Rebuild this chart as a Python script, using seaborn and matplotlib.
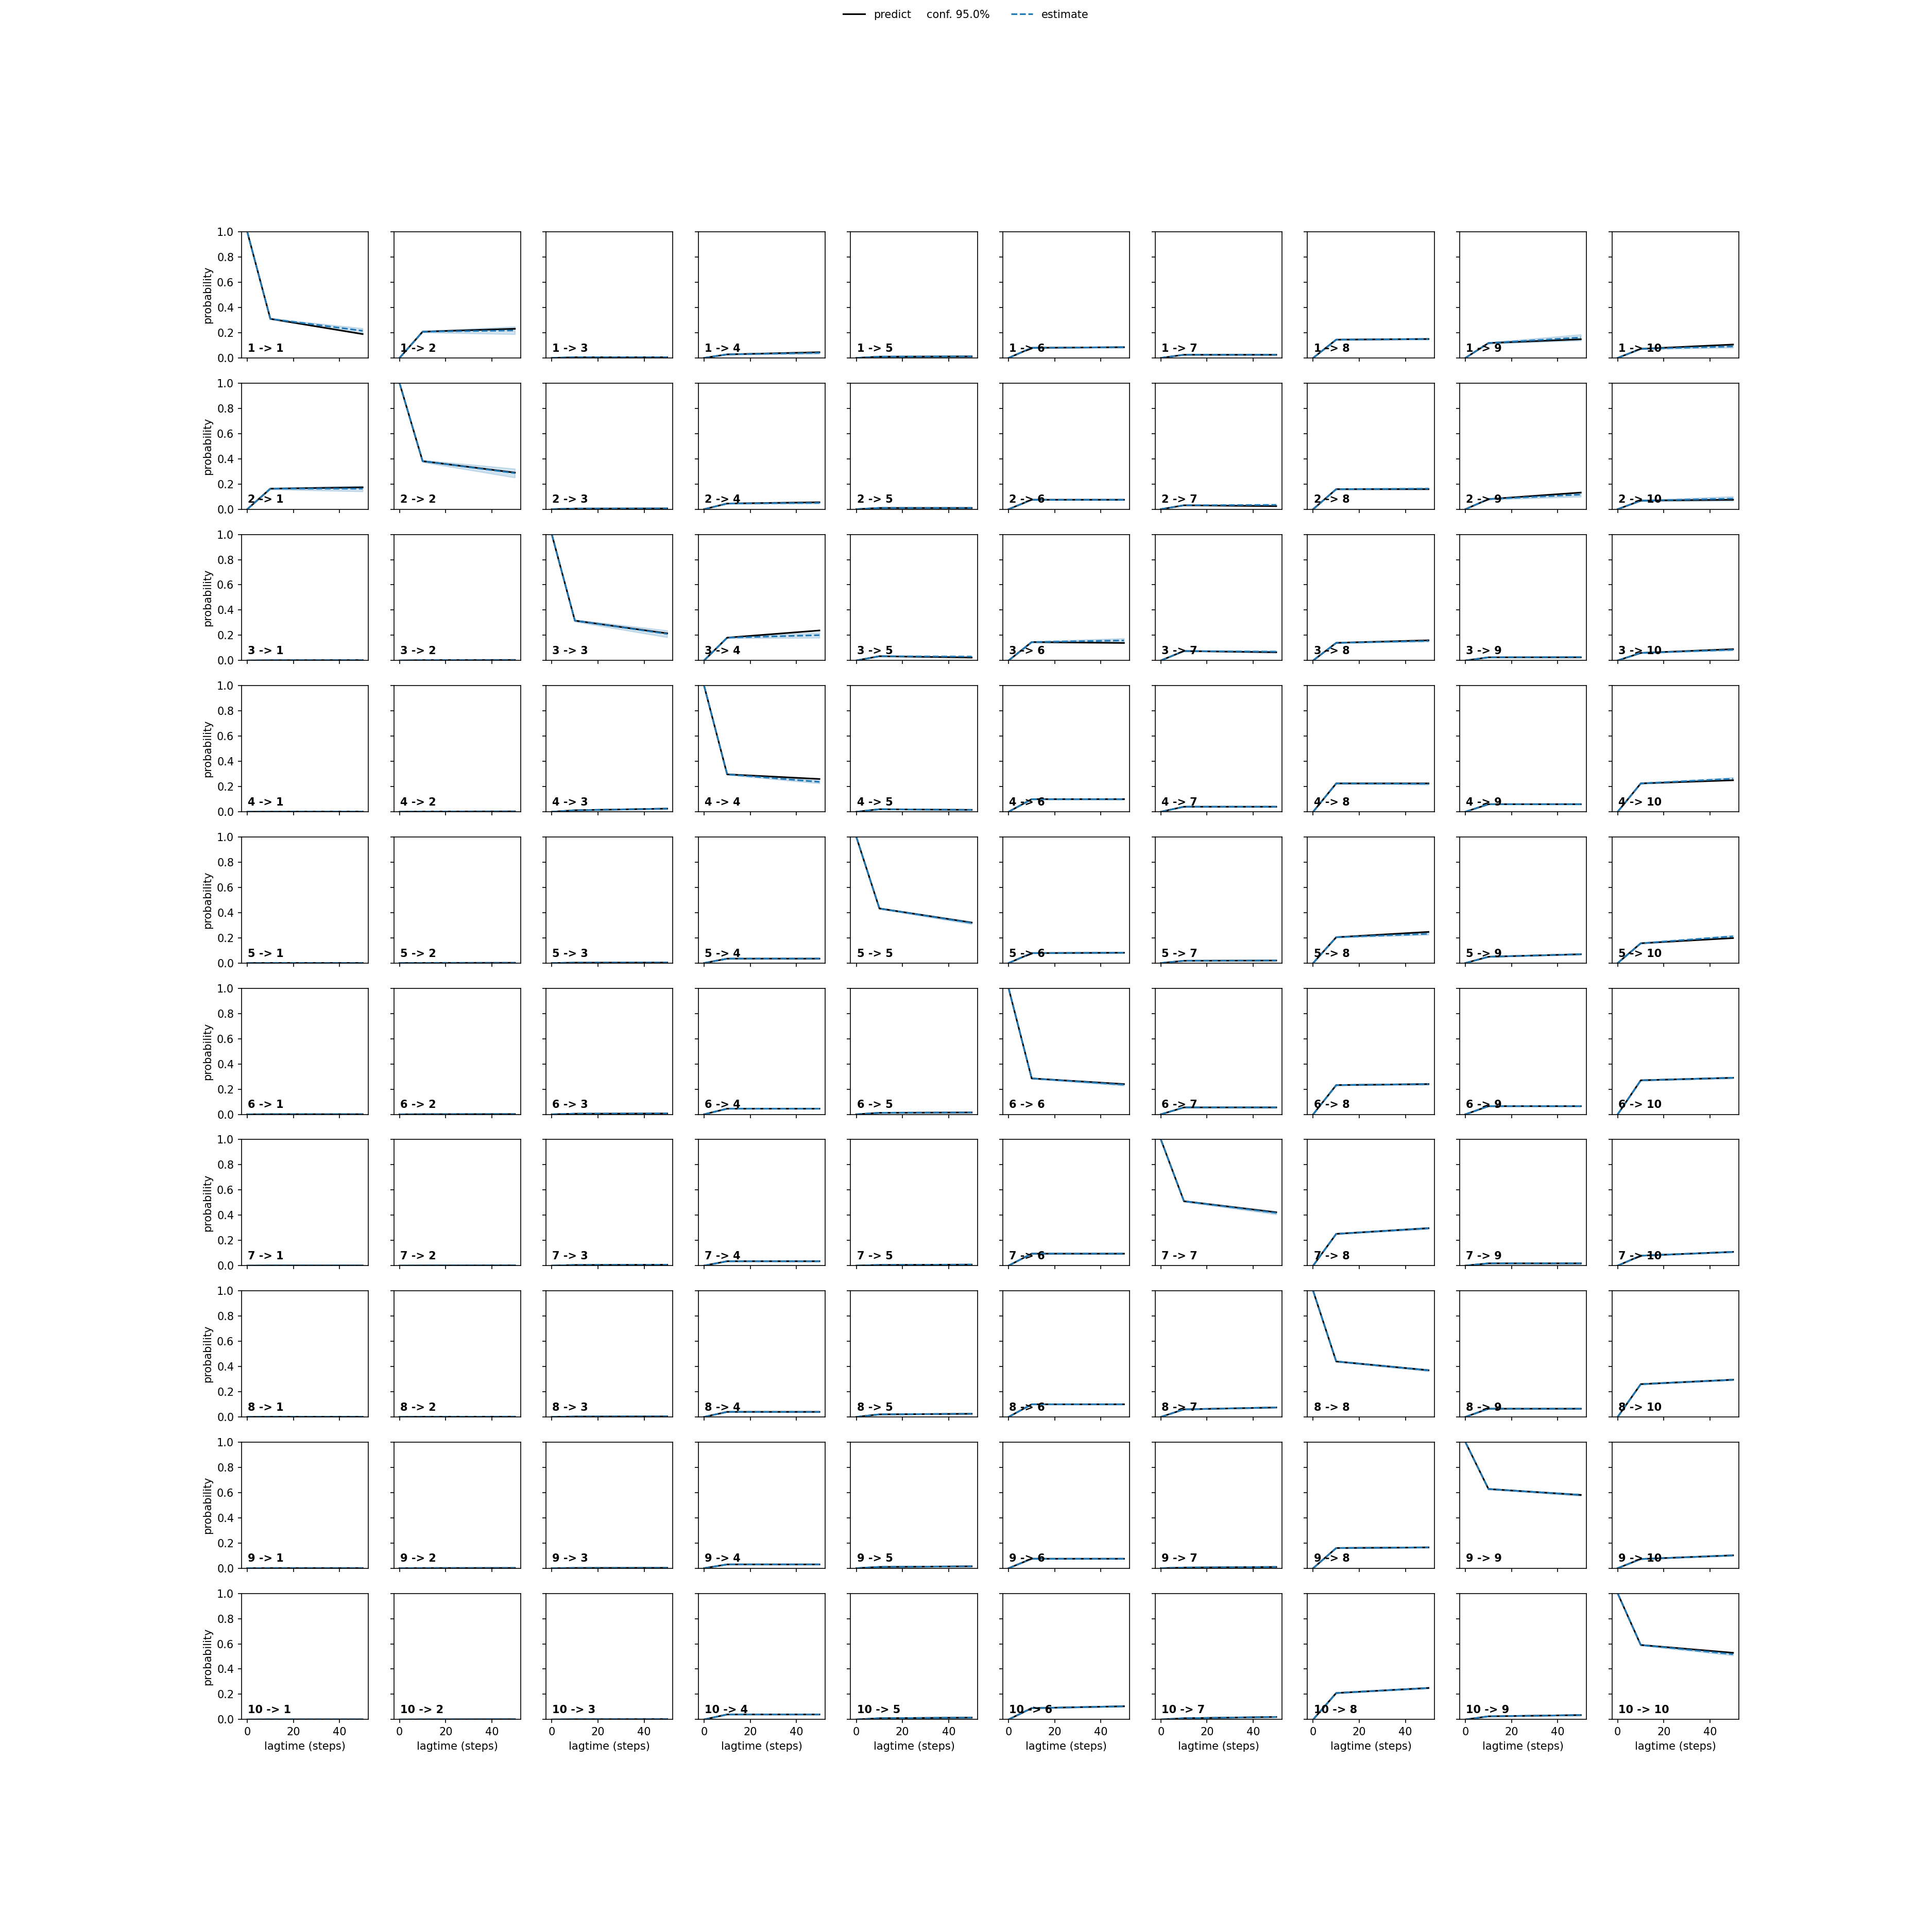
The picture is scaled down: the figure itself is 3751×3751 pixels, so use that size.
import numpy as np
import matplotlib
matplotlib.use("Agg")
import matplotlib.pyplot as plt
from matplotlib.lines import Line2D
from matplotlib.legend_handler import HandlerBase
import seaborn as sns

# lag times of the test (steps)
lagtimes = [0, 10, 50]
n_states = 10

# transition probabilities i -> j at lag 10 (prediction and estimate coincide here)
p_lag10 = [
    [0.310, 0.208, 0.005, 0.028, 0.010, 0.080, 0.025, 0.145, 0.118, 0.072],
    [0.163, 0.381, 0.005, 0.045, 0.010, 0.075, 0.031, 0.159, 0.080, 0.068],
    [0.002, 0.003, 0.316, 0.181, 0.034, 0.146, 0.075, 0.140, 0.025, 0.060],
    [0.001, 0.002, 0.012, 0.297, 0.020, 0.100, 0.040, 0.225, 0.060, 0.225],
    [0.001, 0.001, 0.003, 0.035, 0.433, 0.079, 0.018, 0.205, 0.050, 0.157],
    [0.001, 0.001, 0.005, 0.045, 0.012, 0.285, 0.055, 0.232, 0.065, 0.270],
    [0.001, 0.001, 0.005, 0.035, 0.005, 0.095, 0.511, 0.252, 0.018, 0.079],
    [0.001, 0.001, 0.003, 0.040, 0.020, 0.100, 0.060, 0.440, 0.065, 0.260],
    [0.001, 0.001, 0.002, 0.030, 0.010, 0.075, 0.005, 0.160, 0.628, 0.073],
    [0.001, 0.001, 0.002, 0.040, 0.010, 0.090, 0.010, 0.210, 0.025, 0.591],
]

# model prediction at lag 50
predict_lag50 = [
    [0.189, 0.231, 0.005, 0.045, 0.012, 0.085, 0.025, 0.150, 0.148, 0.106],
    [0.173, 0.290, 0.006, 0.055, 0.010, 0.075, 0.024, 0.159, 0.132, 0.075],
    [0.003, 0.004, 0.215, 0.238, 0.023, 0.139, 0.065, 0.160, 0.025, 0.090],
    [0.002, 0.003, 0.025, 0.260, 0.015, 0.100, 0.040, 0.225, 0.060, 0.250],
    [0.001, 0.002, 0.004, 0.035, 0.321, 0.082, 0.020, 0.247, 0.070, 0.198],
    [0.001, 0.002, 0.007, 0.045, 0.015, 0.240, 0.055, 0.240, 0.065, 0.290],
    [0.001, 0.002, 0.007, 0.035, 0.008, 0.095, 0.423, 0.297, 0.018, 0.109],
    [0.001, 0.002, 0.004, 0.040, 0.025, 0.100, 0.075, 0.370, 0.065, 0.295],
    [0.001, 0.002, 0.003, 0.030, 0.015, 0.075, 0.010, 0.165, 0.581, 0.102],
    [0.001, 0.002, 0.003, 0.040, 0.015, 0.105, 0.020, 0.250, 0.035, 0.529],
]

# direct estimate at lag 50
estimate_lag50 = [
    [0.215, 0.218, 0.005, 0.040, 0.012, 0.085, 0.025, 0.150, 0.162, 0.091],
    [0.163, 0.286, 0.006, 0.050, 0.010, 0.075, 0.034, 0.163, 0.116, 0.084],
    [0.003, 0.004, 0.211, 0.201, 0.031, 0.159, 0.070, 0.155, 0.027, 0.085],
    [0.002, 0.003, 0.025, 0.237, 0.015, 0.100, 0.040, 0.222, 0.060, 0.262],
    [0.001, 0.002, 0.004, 0.036, 0.318, 0.082, 0.020, 0.232, 0.070, 0.212],
    [0.001, 0.002, 0.007, 0.045, 0.015, 0.235, 0.055, 0.240, 0.065, 0.290],
    [0.001, 0.002, 0.007, 0.035, 0.008, 0.095, 0.418, 0.297, 0.018, 0.109],
    [0.001, 0.002, 0.004, 0.040, 0.025, 0.100, 0.075, 0.370, 0.065, 0.295],
    [0.001, 0.002, 0.003, 0.030, 0.015, 0.075, 0.010, 0.165, 0.581, 0.102],
    [0.001, 0.002, 0.003, 0.040, 0.015, 0.105, 0.020, 0.250, 0.035, 0.518],
]

# half width of the 95% band around the estimate
conf_lag10 = [
    [0.004, 0.006, 0.002, 0.003, 0.002, 0.003, 0.002, 0.004, 0.005, 0.004],
    [0.006, 0.008, 0.002, 0.003, 0.002, 0.003, 0.002, 0.004, 0.004, 0.004],
    [0.001, 0.001, 0.008, 0.005, 0.003, 0.005, 0.003, 0.003, 0.002, 0.003],
    [0.001, 0.001, 0.002, 0.005, 0.002, 0.003, 0.002, 0.004, 0.002, 0.004],
    [0.001, 0.001, 0.001, 0.002, 0.005, 0.003, 0.002, 0.004, 0.002, 0.004],
    [0.001, 0.001, 0.002, 0.002, 0.002, 0.004, 0.002, 0.004, 0.002, 0.004],
    [0.001, 0.001, 0.002, 0.002, 0.002, 0.003, 0.005, 0.004, 0.003, 0.003],
    [0.001, 0.001, 0.001, 0.002, 0.002, 0.003, 0.002, 0.005, 0.002, 0.004],
    [0.001, 0.001, 0.001, 0.002, 0.002, 0.003, 0.002, 0.003, 0.005, 0.003],
    [0.001, 0.001, 0.001, 0.002, 0.002, 0.003, 0.002, 0.004, 0.002, 0.005],
]
conf_lag50 = [
    [0.020, 0.030, 0.003, 0.008, 0.003, 0.005, 0.004, 0.006, 0.024, 0.010],
    [0.022, 0.035, 0.003, 0.006, 0.003, 0.005, 0.006, 0.007, 0.017, 0.018],
    [0.002, 0.002, 0.027, 0.021, 0.004, 0.017, 0.008, 0.006, 0.004, 0.006],
    [0.002, 0.002, 0.004, 0.012, 0.003, 0.005, 0.004, 0.008, 0.004, 0.010],
    [0.001, 0.001, 0.002, 0.004, 0.010, 0.004, 0.003, 0.008, 0.004, 0.008],
    [0.001, 0.001, 0.002, 0.004, 0.003, 0.008, 0.004, 0.006, 0.004, 0.006],
    [0.001, 0.001, 0.002, 0.004, 0.003, 0.005, 0.012, 0.008, 0.006, 0.005],
    [0.001, 0.001, 0.002, 0.004, 0.003, 0.005, 0.004, 0.008, 0.004, 0.006],
    [0.001, 0.001, 0.002, 0.003, 0.003, 0.004, 0.003, 0.005, 0.008, 0.005],
    [0.001, 0.001, 0.002, 0.003, 0.003, 0.005, 0.003, 0.006, 0.004, 0.010],
]

est_color = "C0"


class BlankHandler(HandlerBase):
    # legend entry that shows only its label
    def legend_artist(self, legend, orig_handle, fontsize, handlebox):
        handlebox.width = -13.5
        art = Line2D([], [])
        art.set_visible(False)
        handlebox.add_artist(art)
        return art


fig, axes = plt.subplots(n_states, n_states, figsize=(3751 / 150, 3751 / 150),
                         sharex=True, sharey=True)

for i in range(n_states):
    for j in range(n_states):
        ax = axes[i, j]
        start = 1.0 if i == j else 0.0
        pred = [start, p_lag10[i][j], predict_lag50[i][j]]
        est = [start, p_lag10[i][j], estimate_lag50[i][j]]
        width = [0.0, conf_lag10[i][j], conf_lag50[i][j]]
        lo = [e - w for e, w in zip(est, width)]
        hi = [e + w for e, w in zip(est, width)]

        sns.lineplot(x=lagtimes, y=pred, ax=ax, color="black", linewidth=1.5)
        sns.lineplot(x=lagtimes, y=est, ax=ax, color=est_color,
                     linestyle="dashed", linewidth=1.5)
        ax.fill_between(lagtimes, lo, hi, color=est_color, alpha=0.2)

        ax.text(0.05, 0.05, f"{i + 1} -> {j + 1}", transform=ax.transAxes,
                weight="bold")
        ax.set_ylim(0, 1)
        if j == 0:
            ax.set_ylabel("probability")
        if i == n_states - 1:
            ax.set_xlabel("lagtime (steps)")

handles = [Line2D([], [], color="black"), Line2D([], []),
           Line2D([], [], color=est_color, linestyle="dashed")]
labels = ["predict", "conf. 95.0%", "estimate"]
fig.legend(handles, labels, loc="upper center", ncol=3, frameon=False,
           handler_map={handles[1]: BlankHandler()})

fig.savefig("out.png", dpi=150)
plt.close(fig)
